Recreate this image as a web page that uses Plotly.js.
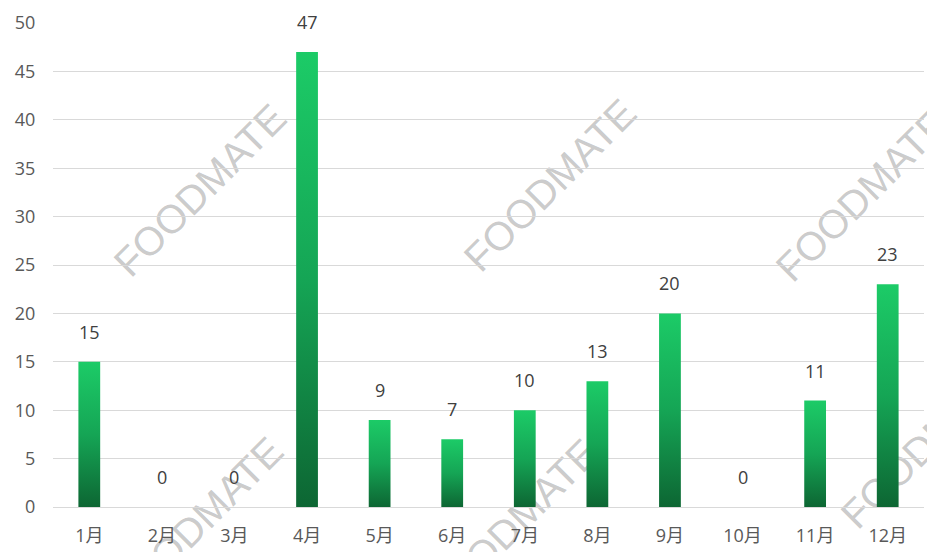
<!DOCTYPE html>
<html>
<head>
<meta charset="utf-8">
<script src="https://cdn.plot.ly/plotly-3.0.1.min.js"></script>
<style>
  html, body { margin: 0; padding: 0; background: #fff; }
  #chart { width: 927px; height: 552px; }
</style>
</head>
<body>
<div id="chart"></div>
<script>
var months = ["1月","2月","3月","4月","5月","6月","7月","8月","9月","10月","11月","12月"];
var counts = [15, 0, 0, 47, 9, 7, 10, 13, 20, 0, 11, 23];

// watermark centres, in pixels of the 927x552 picture
var markX = [200, 550, 862, 197, 512, 927];
var markY = [190, 185, 195, 523, 525, 442];

var W = 927, H = 552;
var mL = 53, mR = 3, mT = 23, mB = 45;

var font = "'Open Sans', 'Noto Sans CJK SC', sans-serif";

var annotations = [];
for (var i = 0; i < months.length; i++) {
  annotations.push({
    x: months[i], y: counts[i], xref: "x", yref: "y",
    text: String(counts[i]), showarrow: false,
    yanchor: "bottom", yshift: 16,
    font: {family: font, size: 18, color: "#404040"}
  });
}
for (var j = 0; j < markX.length; j++) {
  annotations.push({
    xref: "paper", yref: "paper",
    x: (markX[j] - mL) / (W - mL - mR),
    y: 1 - (markY[j] - mT) / (H - mT - mB),
    xanchor: "center", yanchor: "middle",
    text: "FOODMATE", showarrow: false, textangle: -45,
    font: {family: "'Liberation Sans', Arial, sans-serif", size: 40, color: "rgba(120,120,120,0.4)"}
  });
}

var trace = [{
  x: months,
  y: counts,
  type: "bar",
  marker: {color: "#17a654"},
  hoverinfo: "none"
}];

var layout = {
  width: W, height: H,
  margin: {l: mL, r: mR, t: mT, b: mB},
  paper_bgcolor: "#fff",
  plot_bgcolor: "rgba(0,0,0,0)",
  bargap: 0.7,
  showlegend: false,
  font: {family: font, size: 18, color: "#595959"},
  xaxis: {
    type: "category",
    showgrid: false, zeroline: false, showline: false,
    ticks: "outside", ticklen: 12, tickcolor: "rgba(0,0,0,0)",
    tickfont: {family: font, size: 18, color: "#595959"}
  },
  yaxis: {
    range: [0, 50], dtick: 5,
    showgrid: true, gridcolor: "#d9d9d9", gridwidth: 1,
    zeroline: true, zerolinecolor: "#d9d9d9", zerolinewidth: 1,
    showline: false,
    ticks: "outside", ticklen: 13, tickcolor: "rgba(0,0,0,0)",
    tickfont: {family: font, size: 18, color: "#595959"}
  },
  annotations: annotations
};

Plotly.newPlot("chart", trace, layout, {staticPlot: true}).then(function (gd) {
  var svg = gd.querySelector("svg.main-svg");
  var ns = "http://www.w3.org/2000/svg";

  // vertical gradient on every bar: light green on top, dark green at the base
  var defs = svg.querySelector("defs");
  var grad = document.createElementNS(ns, "linearGradient");
  grad.setAttribute("id", "barGrad");
  grad.setAttribute("x1", "0"); grad.setAttribute("y1", "0");
  grad.setAttribute("x2", "0"); grad.setAttribute("y2", "1");
  [["0", "#1ccb67"], ["0.5", "#15a555"], ["1", "#0d6633"]].forEach(function (s) {
    var st = document.createElementNS(ns, "stop");
    st.setAttribute("offset", s[0]);
    st.setAttribute("stop-color", s[1]);
    grad.appendChild(st);
  });
  defs.appendChild(grad);
  gd.querySelectorAll(".trace.bars .point path").forEach(function (p) {
    p.style.fill = "url(#barGrad)";
  });

  // watermarks go behind the bars
  var under = document.createElementNS(ns, "g");
  under.setAttribute("class", "watermarks");
  var cart = svg.querySelector(".cartesianlayer");
  svg.insertBefore(under, cart);
  gd.querySelectorAll(".annotation").forEach(function (a) {
    if (a.textContent === "FOODMATE") under.appendChild(a);
  });
});
</script>
</body>
</html>
